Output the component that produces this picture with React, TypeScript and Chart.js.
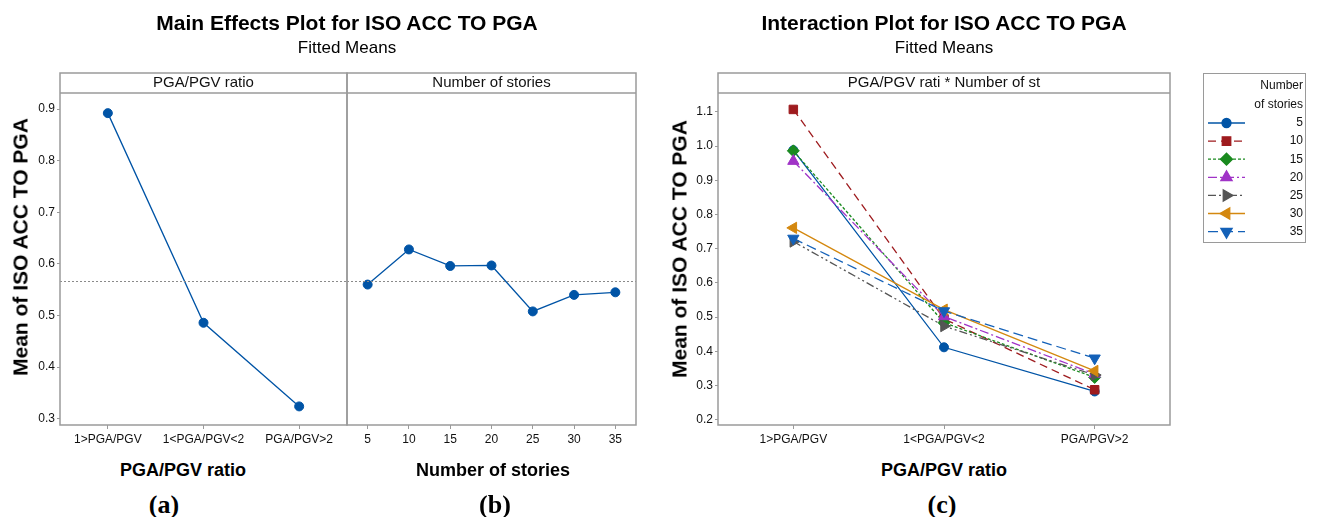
import React, { useEffect, useRef } from 'react';
import { Chart, registerables } from 'chart.js';
import { drawPoint } from 'chart.js/helpers';

Chart.register(...registerables);

// ---------- data ----------
const ratioCategories = ['1>PGA/PGV', '1<PGA/PGV<2', 'PGA/PGV>2'];
const storyCategories = ['5', '10', '15', '20', '25', '30', '35'];
const ratioMeans = [0.892, 0.486, 0.324];
const storyMeans = [0.56, 0.628, 0.596, 0.597, 0.508, 0.54, 0.545];
const grandMean = 0.567;

const storyLevels = ['5', '10', '15', '20', '25', '30', '35'];
const stories5 = [0.988, 0.412, 0.283];
const stories10 = [1.107, 0.495, 0.288];
const stories15 = [0.986, 0.484, 0.324];
const stories20 = [0.956, 0.502, 0.334];
const stories25 = [0.721, 0.474, 0.331];
const stories30 = [0.761, 0.522, 0.343];
const stories35 = [0.73, 0.518, 0.38];

const FONT = "'Liberation Sans', Arial, sans-serif";
const FRAME = '#9a9a9a';
const BLUE = '#0054A6';

const seriesStyles = [
  { color: '#0054A6', dash: [], pointStyle: 'circle', rotation: 0, radius: 4.5 },
  { color: '#9E1B1E', dash: [8, 5], pointStyle: 'rect', rotation: 0, radius: 6 },
  { color: '#1A8A1F', dash: [3, 2], pointStyle: 'rectRot', rotation: 0, radius: 6 },
  { color: '#A033C7', dash: [9, 3, 2, 3], pointStyle: 'triangle', rotation: 0, radius: 6.5 },
  { color: '#555555', dash: [8, 3, 2, 3, 2, 3], pointStyle: 'triangle', rotation: 90, radius: 6.5 },
  { color: '#D4880F', dash: [], pointStyle: 'triangle', rotation: -90, radius: 6.5 },
  { color: '#1461B8', dash: [10, 5], pointStyle: 'triangle', rotation: 180, radius: 6.5 },
];
const interactionSeries = [stories5, stories10, stories15, stories20, stories25, stories30, stories35];

// ---------- plugins ----------
const framePlugin = {
  id: 'frame',
  afterDatasetsDraw(chart: any, _args: any, opts: any) {
    const { ctx, chartArea } = chart;
    const { left, right } = chartArea;
    ctx.save();
    if (opts.mean != null) {
      const y = chart.scales.y.getPixelForValue(opts.mean);
      ctx.strokeStyle = '#8a8a8a';
      ctx.lineWidth = 1;
      ctx.setLineDash([2, 2]);
      ctx.beginPath();
      ctx.moveTo(left, Math.round(y) + 0.5);
      ctx.lineTo(right, Math.round(y) + 0.5);
      ctx.stroke();
      ctx.setLineDash([]);
    }
    ctx.restore();
  },
  afterDraw(chart: any, _args: any, opts: any) {
    const { ctx, chartArea } = chart;
    const { left, right, top, bottom } = chartArea;
    ctx.save();
    ctx.strokeStyle = FRAME;
    ctx.lineWidth = 1.5;
    ctx.strokeRect(left, top - 20, right - left, bottom - top + 20);
    ctx.beginPath();
    ctx.moveTo(left, top);
    ctx.lineTo(right, top);
    ctx.stroke();
    ctx.fillStyle = '#111';
    ctx.font = `15px ${FONT}`;
    ctx.textAlign = 'center';
    ctx.textBaseline = 'middle';
    ctx.fillText(opts.header, (left + right) / 2, top - 10);
    ctx.restore();
  },
};

const legendPlugin = {
  id: 'storyLegend',
  afterDraw(chart: any, _args: any, opts: any) {
    if (!opts.show) return;
    const { ctx } = chart;
    const bx = opts.x;
    const by = opts.y;
    ctx.save();
    ctx.strokeStyle = FRAME;
    ctx.lineWidth = 1;
    ctx.strokeRect(bx + 0.5, by + 0.5, 102, 169);
    ctx.fillStyle = '#111';
    ctx.font = `12px ${FONT}`;
    ctx.textAlign = 'right';
    ctx.textBaseline = 'middle';
    ctx.fillText('Number', bx + 100, by + 13);
    ctx.fillText('of stories', bx + 100, by + 32);
    chart.data.datasets.forEach((ds: any, i: number) => {
      const y = by + 50 + i * 18.1;
      ctx.strokeStyle = ds.borderColor;
      ctx.lineWidth = ds.borderWidth;
      ctx.setLineDash(ds.borderDash || []);
      ctx.beginPath();
      ctx.moveTo(bx + 5, y);
      ctx.lineTo(bx + 42, y);
      ctx.stroke();
      ctx.setLineDash([]);
      ctx.fillStyle = ds.pointBackgroundColor;
      ctx.strokeStyle = ds.pointBorderColor;
      drawPoint(ctx, {
        pointStyle: ds.pointStyle,
        rotation: ds.pointRotation,
        radius: ds.pointRadius,
        borderWidth: 1,
      } as any, bx + 23.5, y);
      ctx.fillStyle = '#111';
      ctx.fillText(ds.label, bx + 100, y);
    });
    ctx.restore();
  },
};

function xScale(height: number) {
  return {
    type: 'category' as const,
    offset: true,
    grid: { drawOnChartArea: false, drawTicks: true, tickLength: 4, color: FRAME, lineWidth: 1 },
    border: { display: false },
    ticks: { font: { family: FONT, size: 12 }, color: '#111', padding: 3, maxRotation: 0, autoSkip: false },
    afterFit: (s: any) => {
      s.height = height;
      s.paddingLeft = 0;
      s.paddingRight = 0;
    },
  };
}

function yScale(min: number, max: number, width: number, show: boolean) {
  return {
    type: 'linear' as const,
    display: show,
    min,
    max,
    grid: { drawOnChartArea: false, drawTicks: true, tickLength: 3, color: FRAME },
    border: { display: false },
    ticks: {
      stepSize: 0.1,
      includeBounds: false,
      callback: (v: any) => Number(v).toFixed(1),
      font: { family: FONT, size: 12 },
      color: '#111',
      padding: 2,
    },
    afterFit: (s: any) => {
      s.width = width;
      s.paddingTop = 0;
      s.paddingBottom = 0;
    },
  };
}

function useChart(ref: React.RefObject<HTMLCanvasElement>, config: () => any) {
  useEffect(() => {
    if (!ref.current) return;
    const chart = new Chart(ref.current, config());
    return () => chart.destroy();
  }, []);
}

const mainYMin = 0.288;
const mainYMax = 0.931;

export default function App() {
  const refA = useRef<HTMLCanvasElement>(null);
  const refB = useRef<HTMLCanvasElement>(null);
  const refC = useRef<HTMLCanvasElement>(null);

  useChart(refA, () => ({
    type: 'line',
    data: {
      labels: ratioCategories,
      datasets: [{
        data: ratioMeans,
        borderColor: BLUE,
        borderWidth: 1.3,
        pointRadius: 4.5,
        pointBackgroundColor: BLUE,
        pointBorderColor: BLUE,
        pointBorderWidth: 1,
      }],
    },
    options: {
      animation: false,
      responsive: false,
      layout: { autoPadding: false, padding: { top: 93, right: 1, bottom: 0, left: 0 } },
      plugins: { legend: { display: false }, tooltip: { enabled: false }, frame: { header: 'PGA/PGV ratio', mean: grandMean }, storyLegend: { show: false } },
      scales: { x: xScale(25), y: yScale(mainYMin, mainYMax, 60, true) },
    },
    plugins: [framePlugin, legendPlugin],
  }));

  useChart(refB, () => ({
    type: 'line',
    data: {
      labels: storyCategories,
      datasets: [{
        data: storyMeans,
        borderColor: BLUE,
        borderWidth: 1.3,
        pointRadius: 4.5,
        pointBackgroundColor: BLUE,
        pointBorderColor: BLUE,
        pointBorderWidth: 1,
      }],
    },
    options: {
      animation: false,
      responsive: false,
      layout: { autoPadding: false, padding: { top: 93, right: 1, bottom: 0, left: 1 } },
      plugins: { legend: { display: false }, tooltip: { enabled: false }, frame: { header: 'Number of stories', mean: grandMean }, storyLegend: { show: false } },
      scales: { x: xScale(25), y: yScale(mainYMin, mainYMax, 0, false) },
    },
    plugins: [framePlugin, legendPlugin],
  }));

  useChart(refC, () => ({
    type: 'line',
    data: {
      labels: ratioCategories,
      datasets: interactionSeries.map((vals, i) => {
        const st = seriesStyles[i];
        return {
          label: storyLevels[i],
          data: vals,
          order: 6 - i,
          borderColor: st.color,
          borderWidth: 1.3,
          borderDash: st.dash,
          pointStyle: st.pointStyle,
          pointRotation: st.rotation,
          pointRadius: st.radius,
          pointBackgroundColor: st.color,
          pointBorderColor: st.color,
          pointBorderWidth: 1,
        };
      }),
    },
    options: {
      animation: false,
      responsive: false,
      layout: { autoPadding: false, padding: { top: 93, right: 149, bottom: 0, left: 0 } },
      plugins: {
        legend: { display: false },
        tooltip: { enabled: false },
        frame: { header: 'PGA/PGV rati * Number of st', mean: null },
        storyLegend: { show: true, x: 543, y: 73 },
      },
      scales: { x: xScale(25), y: yScale(0.185, 1.155, 58, true) },
    },
    plugins: [framePlugin, legendPlugin],
  }));

  const abs = (x: number, y: number, extra: React.CSSProperties = {}): React.CSSProperties => ({
    position: 'absolute',
    left: x,
    top: y,
    transform: 'translate(-50%, -50%)',
    whiteSpace: 'nowrap',
    fontFamily: FONT,
    color: '#000',
    lineHeight: 1,
    ...extra,
  });
  const serif = "'Liberation Serif', 'Times New Roman', serif";

  return (
    <div style={{ position: 'absolute', left: 0, top: 0, width: 1319, height: 517, background: '#fff', overflow: 'hidden' }}>
      <canvas ref={refA} width={348} height={450} style={{ position: 'absolute', left: 0, top: 0 }} />
      <canvas ref={refB} width={291} height={450} style={{ position: 'absolute', left: 346, top: 0 }} />
      <canvas ref={refC} width={659} height={450} style={{ position: 'absolute', left: 660, top: 0 }} />

      <div style={abs(347, 22, { fontSize: 21, fontWeight: 'bold' })}>Main Effects Plot for ISO ACC TO PGA</div>
      <div style={abs(347, 47, { fontSize: 17 })}>Fitted Means</div>
      <div style={abs(944, 22, { fontSize: 21, fontWeight: 'bold' })}>Interaction Plot for ISO ACC TO PGA</div>
      <div style={abs(944, 47, { fontSize: 17 })}>Fitted Means</div>

      <div style={abs(20, 247, { fontSize: 21, fontWeight: 'bold', transform: 'translate(-50%, -50%) rotate(-90deg)' })}>Mean of ISO ACC TO PGA</div>
      <div style={abs(679, 249, { fontSize: 21, fontWeight: 'bold', transform: 'translate(-50%, -50%) rotate(-90deg)' })}>Mean of ISO ACC TO PGA</div>

      <div style={abs(183, 470, { fontSize: 18, fontWeight: 'bold' })}>PGA/PGV ratio</div>
      <div style={abs(493, 470, { fontSize: 18, fontWeight: 'bold' })}>Number of stories</div>
      <div style={abs(944, 470, { fontSize: 18, fontWeight: 'bold' })}>PGA/PGV ratio</div>

      <div style={abs(164, 505, { fontSize: 26, fontWeight: 'bold', fontFamily: serif })}>(a)</div>
      <div style={abs(495, 505, { fontSize: 26, fontWeight: 'bold', fontFamily: serif })}>(b)</div>
      <div style={abs(942, 505, { fontSize: 26, fontWeight: 'bold', fontFamily: serif })}>(c)</div>
    </div>
  );
}
